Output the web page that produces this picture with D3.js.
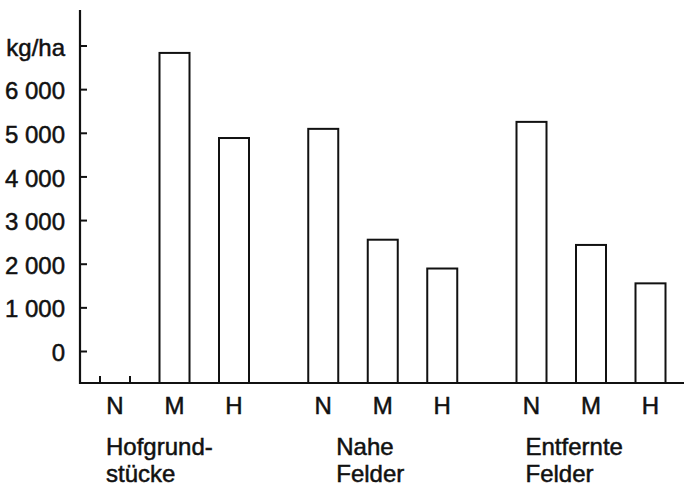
<!DOCTYPE html>
<html>
<head>
<meta charset="utf-8">
<script src="https://cdn.jsdelivr.net/npm/d3@7"></script>
<style>
  body { margin: 0; background: #fff; }
  text { font-family: "Liberation Sans", Arial, sans-serif; font-size: 24px; fill: #111; stroke: #111; stroke-width: 0.5px; }
</style>
</head>
<body>
<div id="chart"></div>
<script>
// data
const groups = [["Hofgrund-", "stücke"], ["Nahe", "Felder"], ["Entfernte", "Felder"]]
const types = ["N", "M", "H"]
const hofgrund = [null, 6830, 4880]
const nahe = [5090, 2550, 1890]
const entfernte = [5250, 2430, 1550]
const yTicks = [0, 1000, 2000, 3000, 4000, 5000, 6000, 7000]
const unitLabel = "kg/ha"

const seriesList = [hofgrund, nahe, entfernte]

const width = 684
const height = 487

const svg = d3.select('#chart').append('svg')
    .attr('width', width)
    .attr('height', height)

// one slot per bar, groups separated by half a slot extra
const slotOf = (g, i) => g * 3.5 + i
const xScale = d3.scaleLinear().domain([0, 9]).range([100, 635.5])
const barWidth = 30

const yScale = d3.scaleLinear().domain([0, 7000]).range([351, 45.5])
const axisX = 80
const baseY = 383
const yBottom = yScale.invert(baseY)

const bars = []
seriesList.forEach((vals, g) => {
    vals.forEach((v, i) => bars.push({ g: g, i: i, type: types[i], value: v }))
})

// y axis
const fmt = d3.formatLocale({ decimal: ",", thousands: " ", grouping: [3], currency: ["", ""] }).format(",d")
const yAxis = d3.axisLeft(yScale)
    .tickValues(yTicks)
    .tickSizeInner(-7)
    .tickSizeOuter(0)
    .tickPadding(15)
    .tickFormat(d => d === 7000 ? unitLabel : fmt(d))

const yAxisG = svg.append('g')
    .attr('transform', `translate(${axisX},0)`)
    .call(yAxis)
yAxisG.select('.domain').remove()
yAxisG.selectAll('.tick line').attr('stroke', '#111').attr('stroke-width', 2)
yAxisG.selectAll('.tick text')
    .attr('font-family', null).attr('font-size', null)
    .attr('dy', '0.4em')

svg.append('line')
    .attr('x1', axisX).attr('x2', axisX)
    .attr('y1', 10).attr('y2', baseY + 1)
    .attr('stroke', '#111').attr('stroke-width', 2.2)

// bars
svg.selectAll('rect.bar')
    .data(bars.filter(d => d.value !== null))
    .join('rect')
    .attr('class', 'bar')
    .attr('x', d => xScale(slotOf(d.g, d.i)))
    .attr('y', d => yScale(d.value))
    .attr('width', barWidth)
    .attr('height', d => yScale(yBottom) - yScale(d.value))
    .attr('fill', 'none')
    .attr('stroke', '#111')
    .attr('stroke-width', 2)

// empty slot: only short edge marks
bars.filter(d => d.value === null).forEach(d => {
    [0, barWidth].forEach(off => {
        svg.append('line')
            .attr('x1', xScale(slotOf(d.g, d.i)) + off)
            .attr('x2', xScale(slotOf(d.g, d.i)) + off)
            .attr('y1', baseY - 7).attr('y2', baseY)
            .attr('stroke', '#111').attr('stroke-width', 2)
    })
})

// x axis line
svg.append('line')
    .attr('x1', axisX - 1).attr('x2', width)
    .attr('y1', baseY).attr('y2', baseY)
    .attr('stroke', '#111').attr('stroke-width', 2.2)

// category labels
svg.selectAll('text.cat')
    .data(bars)
    .join('text')
    .attr('class', 'cat')
    .attr('text-anchor', 'middle')
    .attr('x', d => xScale(slotOf(d.g, d.i)) + barWidth / 2)
    .attr('y', 414)
    .text(d => d.type)

// group labels
const groupOffset = [6, 28, 9]
groups.forEach((lines, g) => {
    const t = svg.append('text')
        .attr('x', xScale(slotOf(g, 0)) + groupOffset[g])
        .attr('y', 455)
    lines.forEach((ln, k) => {
        t.append('tspan')
            .attr('x', xScale(slotOf(g, 0)) + groupOffset[g])
            .attr('dy', k === 0 ? 0 : 27)
            .text(ln)
    })
})
</script>
</body>
</html>
